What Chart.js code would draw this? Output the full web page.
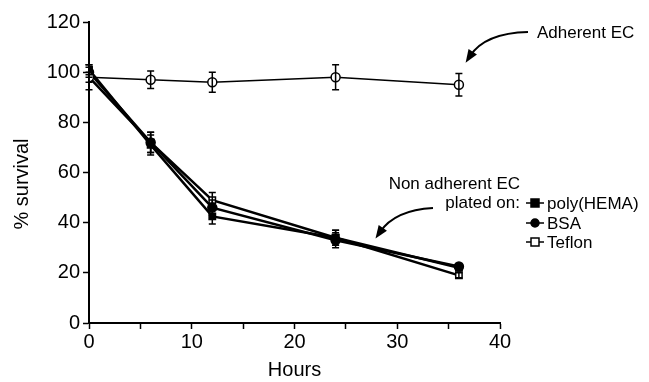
<!DOCTYPE html>
<html><head><meta charset="utf-8">
<script src="https://cdn.jsdelivr.net/npm/chart.js@4"></script>
<style>html,body{margin:0;padding:0;background:#fff}#wrap{width:649px;height:382px;position:relative}</style>
</head><body><div id="wrap"><canvas id="c" width="649" height="382"></canvas></div>
<script>
const hours = [0, 6, 12, 24, 36];
const adherent = [98, 97, 96, 98, 95];
const adherentErr = [5, 3.5, 4, 5, 4.5];
const polyHema = [101, 71, 42.5, 34, 22];
const polyHemaErr = [2, 4, 3, 3, 1];
const bsa = [100, 72, 46, 33, 22.5];
const bsaErr = [2, 4, 3, 3, 1];
const teflon = [98, 72, 49, 34, 19];
const teflonErr = [2, 4, 3, 3, 1];
const xTicks = [0, 10, 20, 30, 40];
const yTicks = [0, 20, 40, 60, 80, 100, 120];
const seriesNames = ['Adherent EC', 'poly(HEMA)', 'BSA', 'Teflon'];
const yTitle = '% survival';
const xTitle = 'Hours';

const FONT = '"Liberation Sans", Arial, Helvetica, sans-serif';
const pts = (ys) => hours.map((h, i) => ({x: h, y: ys[i]}));

const errorBars = {
  id: 'errorBars',
  afterDatasetsDraw(chart) {
    const ctx = chart.ctx, xs = chart.scales.x, ys = chart.scales.y;
    ctx.save();
    ctx.strokeStyle = '#000';
    chart.data.datasets.forEach(ds => {
      ctx.lineWidth = 1.5;
      ds.err.forEach((e, i) => {
        const px = xs.getPixelForValue(ds.data[i].x);
        const top = ys.getPixelForValue(ds.data[i].y + e);
        const bot = ys.getPixelForValue(ds.data[i].y - e);
        ctx.beginPath();
        ctx.moveTo(px, top); ctx.lineTo(px, bot);
        ctx.moveTo(px - 3.5, top); ctx.lineTo(px + 3.5, top);
        ctx.moveTo(px - 3.5, bot); ctx.lineTo(px + 3.5, bot);
        ctx.stroke();
      });
    });
    ctx.restore();
  }
};

function arrow(ctx, x0, y0, cx, cy, x1, y1) {
  ctx.beginPath();
  ctx.moveTo(x0, y0);
  ctx.quadraticCurveTo(cx, cy, x1, y1);
  ctx.lineWidth = 2;
  ctx.stroke();
  const ang = Math.atan2(y1 - cy, x1 - cx);
  const L = 13, W = 5;
  const tx = x1 + Math.cos(ang) * 8, ty = y1 + Math.sin(ang) * 8;
  ctx.beginPath();
  ctx.moveTo(tx, ty);
  ctx.lineTo(tx - Math.cos(ang) * L - Math.sin(ang) * W, ty - Math.sin(ang) * L + Math.cos(ang) * W);
  ctx.lineTo(tx - Math.cos(ang) * L + Math.sin(ang) * W, ty - Math.sin(ang) * L - Math.cos(ang) * W);
  ctx.closePath();
  ctx.fill();
}

const annotations = {
  id: 'annotations',
  afterDraw(chart) {
    const ctx = chart.ctx;
    ctx.save();
    ctx.fillStyle = '#000'; ctx.strokeStyle = '#000';
    ctx.save();
    ctx.translate(22, 184);
    ctx.rotate(-Math.PI / 2);
    ctx.font = '20px ' + FONT;
    ctx.textAlign = 'center'; ctx.textBaseline = 'middle';
    ctx.fillText(yTitle, 0, 0);
    ctx.restore();

    ctx.font = '17px ' + FONT;
    ctx.textBaseline = 'middle';
    ctx.textAlign = 'left';
    ctx.fillText(seriesNames[0], 537, 33);
    ctx.textAlign = 'right';
    ctx.fillText('Non adherent EC', 520, 184);
    ctx.fillText('plated on:', 520, 203);
    arrow(ctx, 528, 32, 485, 33, 470, 56);
    arrow(ctx, 433, 208, 395, 210, 380, 232);
    const items = [
      {name: seriesNames[1], y: 203, style: 'rect', fill: '#000'},
      {name: seriesNames[2], y: 223, style: 'circle', fill: '#000'},
      {name: seriesNames[3], y: 242, style: 'rect', fill: '#fff'}
    ];
    ctx.textAlign = 'left';
    items.forEach(it => {
      ctx.lineWidth = 1.5;
      ctx.beginPath(); ctx.moveTo(526, it.y); ctx.lineTo(544, it.y); ctx.stroke();
      ctx.fillStyle = it.fill;
      ctx.beginPath();
      if (it.style === 'rect') ctx.rect(531, it.y - 4, 8, 8);
      else ctx.arc(535, it.y, 4, 0, Math.PI * 2);
      ctx.fill(); ctx.stroke();
      ctx.fillStyle = '#000';
      ctx.fillText(it.name, 547, it.y + 1);
    });
    ctx.restore();
  }
};

const mk = (label, ys, err, style, fill, lw) => ({
  label, data: pts(ys), err,
  borderColor: '#000', borderWidth: lw,
  pointStyle: style, pointRadius: 4.5, pointBorderWidth: 1.5,
  pointBackgroundColor: fill, pointBorderColor: '#000',
  tension: 0, fill: false
});

new Chart(document.getElementById('c'), {
  type: 'line',
  data: {
    datasets: [
      mk(seriesNames[0], adherent, adherentErr, 'circle', '#fff', 1.5),
      mk(seriesNames[1], polyHema, polyHemaErr, 'rect', '#000', 2.5),
      mk(seriesNames[2], bsa, bsaErr, 'circle', '#000', 2.5),
      mk(seriesNames[3], teflon, teflonErr, 'rect', '#fff', 2.5)
    ]
  },
  options: {
    responsive: false, animation: false,
    layout: {padding: {top: 22, right: 149, left: 0, bottom: 0}},
    plugins: {legend: {display: false}, tooltip: {enabled: false}},
    scales: {
      x: {
        type: 'linear', min: 0, max: 40,
        afterFit(s) { s.height = 59; },
        border: {color: '#000', width: 2},
        grid: {display: true, drawOnChartArea: false, tickLength: 6, tickColor: '#000', tickWidth: 1.5},
        ticks: {stepSize: 5, color: '#000', font: {family: FONT, size: 20}, padding: 1,
          callback: v => xTicks.includes(v) ? String(v) : ''},
        title: {display: true, text: xTitle, color: '#000', font: {family: FONT, size: 20}, padding: {top: 0, bottom: 0}}
      },
      y: {
        min: 0, max: 120,
        afterFit(s) { s.width = 89; },
        border: {color: '#000', width: 2},
        grid: {display: true, drawOnChartArea: false, tickLength: 6, tickColor: '#000', tickWidth: 1.5},
        ticks: {stepSize: 10, color: '#000', font: {family: FONT, size: 20}, padding: 3,
          callback: v => yTicks.includes(v) ? String(v) : ''}
      }
    }
  },
  plugins: [errorBars, annotations]
});
</script></body></html>
